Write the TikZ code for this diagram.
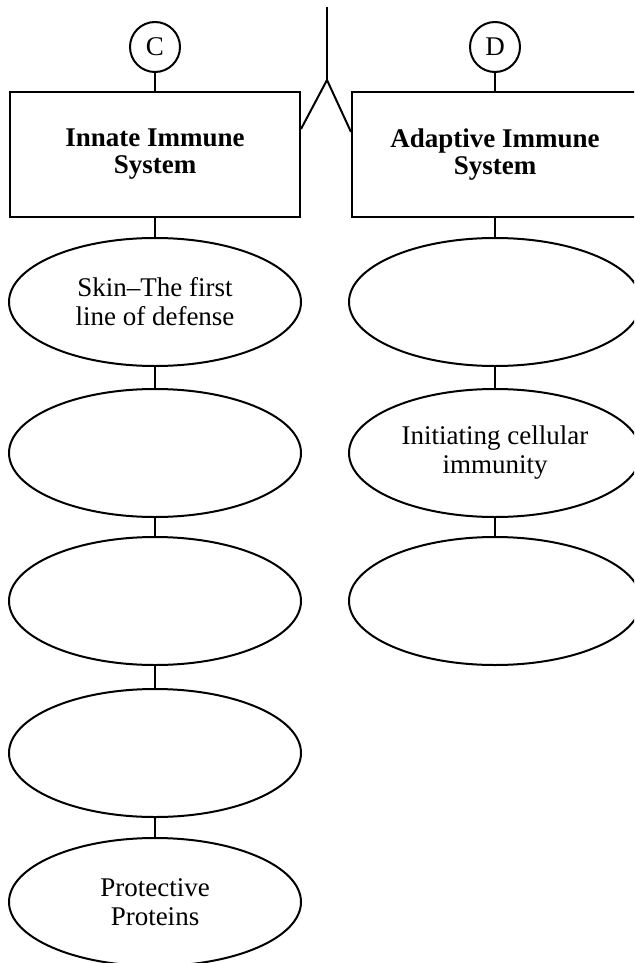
\documentclass[tikz,border=0pt]{standalone}
\usepackage{fontspec}
\setmainfont{Liberation Serif}
\usetikzlibrary{shapes.geometric}
\tikzset{
  conn/.style={line width=2pt},
  letterc/.style={circle, draw, line width=2pt, minimum size=50pt, inner sep=0pt, font=\fontsize{27}{27}\selectfont},
  sysbox/.style={rectangle, draw, line width=2pt, minimum width=290pt, minimum height=125pt, inner sep=0pt, align=center, font=\fontsize{27}{27}\selectfont\bfseries},
  oval/.style={ellipse, draw, line width=2pt, minimum width=292pt, minimum height=128pt, inner sep=0pt, align=center, font=\fontsize{27}{29}\selectfont}
}
\begin{document}
\begin{tikzpicture}[x=1pt,y=-1pt]
\useasboundingbox (0,0) rectangle (634,963);
\clip (0,0) rectangle (634,963);
% circles
\node[letterc] (C) at (155,47) {C};
\node[letterc] (D) at (495,47) {D};
% boxes
\node[sysbox] (Lbox) at (155,154.5) {Innate Immune\\System};
\node[sysbox, minimum width=286pt] (Rbox) at (495,154.5) {Adaptive Immune\\System};
% left ovals
\node[oval] (L1) at (155,302) {Skin–The first\\line of defense};
\node[oval] (L2) at (155,453) {};
\node[oval] (L3) at (155,601) {};
\node[oval] (L4) at (155,753) {};
\node[oval] (L5) at (155,902) {Protective\\Proteins};
% right ovals
\node[oval] (R1) at (495,302) {};
\node[oval] (R2) at (495,453) {Initiating cellular\\immunity};
\node[oval] (R3) at (495,601) {};
% top branch
\coordinate (top) at (327,7);
\coordinate (apex) at (327,80);
\coordinate (lj) at ([yshift=-38pt]Lbox.north east);
\coordinate (rj) at ([yshift=-41pt]Rbox.north west);
\draw[conn] (top) -- (apex);
\draw[conn, line join=miter] (lj) -- (apex) -- (rj);
% connectors
\draw[conn] (C) -- (Lbox);
\draw[conn] (D) -- (Rbox);
\draw[conn] (Lbox) -- (L1);
\draw[conn] (L1) -- (L2);
\draw[conn] (L2) -- (L3);
\draw[conn] (L3) -- (L4);
\draw[conn] (L4) -- (L5);
\draw[conn] (Rbox) -- (R1);
\draw[conn] (R1) -- (R2);
\draw[conn] (R2) -- (R3);
\end{tikzpicture}
\end{document}
